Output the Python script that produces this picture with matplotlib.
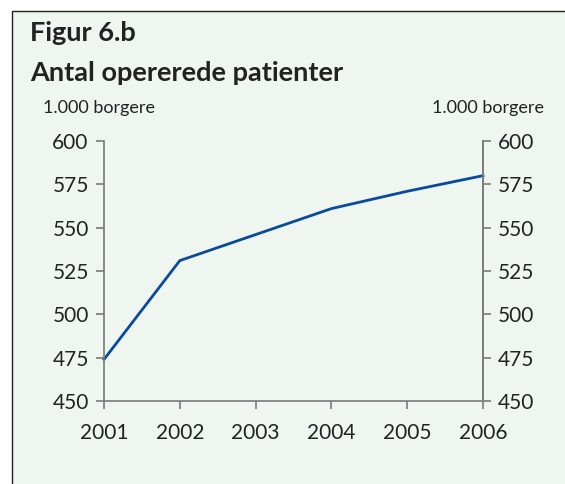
import matplotlib
matplotlib.use("Agg")
import matplotlib.pyplot as plt
from matplotlib.patches import Rectangle

years = [2001, 2002, 2003, 2004, 2005, 2006]
values = [474, 531, 546, 561, 571, 580]
yticks = [450, 475, 500, 525, 550, 575, 600]
title1 = "Figur 6.b"
title2 = "Antal opererede patienter"
unit = "1.000 borgere"

W, H = 565, 484
fig = plt.figure(figsize=(W / 100, H / 100), dpi=100)
fig.patch.set_facecolor("white")
bg = "#eff6f0"
fig.patches.append(Rectangle((12 / W, -0.2), 2.0, 1.2 - 11 / H + 0.0, transform=fig.transFigure,
                             facecolor=bg, edgecolor="#222222", linewidth=1.0, zorder=-10))

font = "Lato"
txt = "#222222"
spine_c = "#7a7a7a"

ax = fig.add_axes([104 / W, 1 - 401 / H, (483 - 104) / W, (401 - 141) / H])
ax.set_facecolor("none")
ax.plot(years, values, color="#0a4a9b", linewidth=2.0, solid_joinstyle="miter", clip_on=False)
ax.set_xlim(years[0], years[-1])
ax.set_ylim(yticks[0], yticks[-1])
ax.set_yticks(yticks)
ax.set_xticks(years)
for s in ["top"]:
    ax.spines[s].set_visible(False)
for s in ["left", "right", "bottom"]:
    ax.spines[s].set_color(spine_c)
    ax.spines[s].set_linewidth(1.2)
ax.tick_params(axis="both", direction="out", length=6, width=1.2, color=spine_c,
               labelsize=15, labelcolor=txt, pad=5)
ax.tick_params(axis="x", pad=10)
for lab in ax.get_xticklabels() + ax.get_yticklabels():
    lab.set_family(font)

ax2 = ax.twinx()
ax2.set_ylim(yticks[0], yticks[-1])
ax2.set_yticks(yticks)
for s in ["top", "left", "bottom"]:
    ax2.spines[s].set_visible(False)
ax2.spines["right"].set_color(spine_c)
ax2.spines["right"].set_linewidth(1.2)
ax2.tick_params(axis="y", direction="out", length=6, width=1.2, color=spine_c,
                labelsize=15, labelcolor=txt, pad=5)
for lab in ax2.get_yticklabels():
    lab.set_family(font)

fig.text(30 / W, 1 - 41 / H, title1, fontsize=19.5, fontweight="bold", family=font,
         color=txt, ha="left", va="baseline")
fig.text(30 / W, 1 - 81 / H, title2, fontsize=19.5, fontweight="bold", family=font,
         color=txt, ha="left", va="baseline")
fig.text(43 / W, 1 - 113 / H, unit, fontsize=13, family=font, color=txt,
         ha="left", va="baseline")
fig.text(544 / W, 1 - 113 / H, unit, fontsize=13, family=font, color=txt,
         ha="right", va="baseline")

fig.savefig("out.png", dpi=100, facecolor=fig.get_facecolor())
